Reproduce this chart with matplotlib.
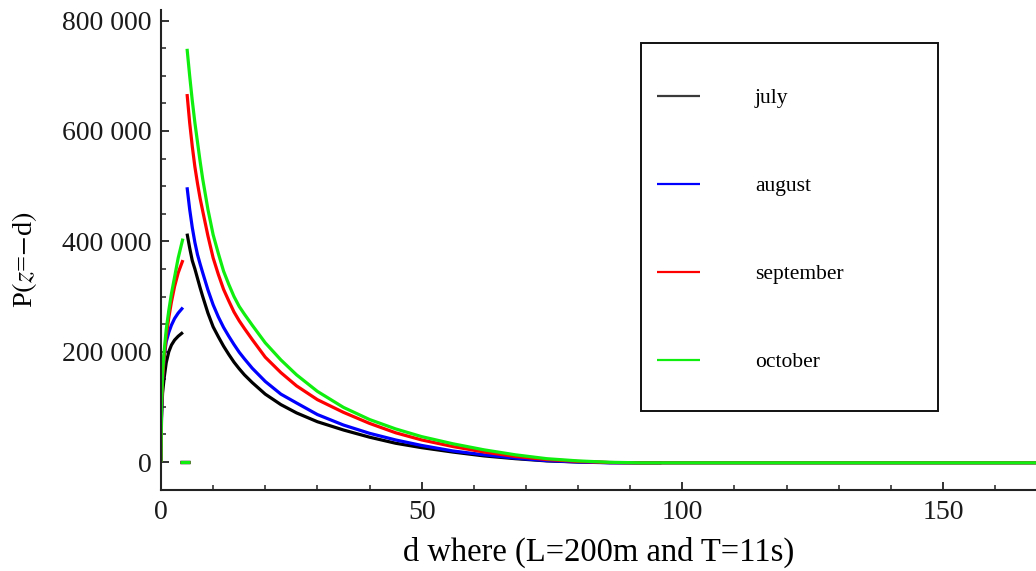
import matplotlib
matplotlib.use("Agg")
import matplotlib.pyplot as plt
import numpy as np
from matplotlib.ticker import MultipleLocator, FuncFormatter
from matplotlib.patches import Rectangle

# ---- data (values in Pa) ----
months = ["july", "august", "september", "october"]
colors = ["#000000", "#0000ff", "#ff0000", "#10ee10"]

# rising branch (0 <= d <= ~4.2)
d_rise = [0, 0.1, 0.3, 0.6, 1.0, 1.5, 2.0, 2.6, 3.3, 4.2]
rise_july = [0, 80e3, 125e3, 152e3, 180e3, 200e3, 212e3, 221e3, 228e3, 235e3]
rise_august = [0, 90e3, 150e3, 190e3, 218e3, 235e3, 248e3, 260e3, 270e3, 280e3]
rise_september = [0, 95e3, 150e3, 190e3, 228e3, 262e3, 290e3, 318e3, 343e3, 366e3]
rise_october = [0, 100e3, 160e3, 200e3, 240e3, 275e3, 305e3, 335e3, 370e3, 405e3]

# short piece at zero
d_gap = [3.6, 5.5]
gap_vals = [0, 0]

# decaying branch (d >= 5), values in thousands
d_decay = [5, 5.5, 6, 6.5, 7, 7.5, 8, 9, 10, 11, 12, 13, 14, 15, 16, 17.5, 20, 23, 26,
           30, 35, 40, 45, 50, 56, 62, 68, 74, 80, 86, 92, 96, 120, 168]
decay_july_k = [414, 388, 365, 350, 333, 316, 300, 270, 245, 227, 210, 195, 181, 169, 158,
                144, 123, 104, 89, 73, 58, 45, 34, 26, 18, 11, 6, 2, 0, -1, -1.5, -1.5,
                np.nan, np.nan]
decay_august_k = [498, 458, 425, 398, 376, 359, 343, 312, 285, 263, 244, 228, 213, 199, 187,
                  170, 146, 123, 107, 86, 67, 52, 40, 30, 20, 13, 7, 2.5, 0, -1.5, -1.5,
                  -1.5, -1.5, -1.5]
decay_september_k = [667, 615, 572, 535, 505, 478, 455, 410, 370, 340, 313, 292, 272, 256,
                     242, 222, 190, 162, 138, 113, 90, 70, 53, 40, 28, 18, 10, 4.5, 1, -1,
                     -1.5, -1.5, -1.5, -1.5]
decay_october_k = [749, 700, 655, 615, 580, 545, 513, 458, 412, 378, 346, 322, 300, 282, 268,
                   248, 216, 185, 158, 128, 99, 77, 60, 46, 33, 22, 13, 6, 2, -0.5, -1.5,
                   -1.5, -1.5, -1.5]

rises = [rise_july, rise_august, rise_september, rise_october]
decays = [np.array(v) * 1e3 for v in
          (decay_july_k, decay_august_k, decay_september_k, decay_october_k)]

x_ticks = [0, 50, 100, 150]
y_ticks = [0, 200000, 400000, 600000, 800000]

# ---- figure ----
W, H = 1036, 571
fig = plt.figure(figsize=(W / 100, H / 100), dpi=100)
serif = ["Liberation Serif", "DejaVu Serif"]
plt.rcParams["font.family"] = serif
plt.rcParams["mathtext.fontset"] = "stix"

left_px, right_px = 161, 1036
top_px, bot_px = 10, 490
ax = fig.add_axes([left_px / W, 1 - bot_px / H, (right_px - left_px) / W, (bot_px - top_px) / H])

lw = 2.3
lines = []
for i, m in enumerate(months):
    ln, = ax.plot(d_rise, rises[i], color=colors[i], lw=lw, solid_capstyle="butt", label=m)
    ax.plot(d_gap, gap_vals, color=colors[i], lw=lw, solid_capstyle="butt")
    ax.plot(d_decay, decays[i], color=colors[i], lw=lw, solid_capstyle="butt",
            solid_joinstyle="round")
    lines.append(ln)

px_per_unit_x = (943 - 161) / 150.0
ax.set_xlim(0, (right_px - left_px) / px_per_unit_x)
px_per_unit_y = (462 - 131) / 600000.0
ax.set_ylim(-(bot_px - 462) / px_per_unit_y, (462 - top_px) / px_per_unit_y)

for s in ["top", "right"]:
    ax.spines[s].set_visible(False)
for s in ["left", "bottom"]:
    ax.spines[s].set_color("#222222")
    ax.spines[s].set_linewidth(1.5)

ax.set_xticks(x_ticks)
ax.xaxis.set_minor_locator(MultipleLocator(10))
ax.set_yticks(y_ticks)
ax.yaxis.set_minor_locator(MultipleLocator(50000))
ax.yaxis.set_major_formatter(FuncFormatter(lambda v, p: f"{int(v):,}".replace(",", " ")))
ax.tick_params(which="major", direction="in", length=6, width=1.3, color="#222222",
               labelsize=20, pad=7, labelcolor="#1a1a1a")
ax.tick_params(which="minor", direction="in", length=3.5, width=1.1, color="#222222")

ax.set_xlabel("d where (L=200m and T=11s)", fontsize=23.5, labelpad=9)
ax.set_ylabel(r"P$(z$=$-$d$)$", fontsize=20.5)
ax.yaxis.set_label_coords(-(161 - 39) / (right_px - left_px), (490 - 260) / (bot_px - top_px))

leg = ax.legend(handles=lines, labels=months, loc="upper left",
                bbox_to_anchor=(657 / W, 1 - 88 / H), bbox_transform=fig.transFigure,
                frameon=False, borderpad=0, borderaxespad=0, fontsize=15.5,
                handlelength=2.0, handletextpad=2.55, labelspacing=3.16)
for h in leg.legend_handles:
    h.set_linewidth(1.6)
leg.legend_handles[0].set_color("#3a3a3a")

fig.patches.append(Rectangle((641 / W, 1 - 411 / H), (938 - 641) / W, (411 - 43) / H,
                             transform=fig.transFigure, fill=False,
                             edgecolor="#111111", lw=1.4))

fig.savefig("out.png", dpi=100)
